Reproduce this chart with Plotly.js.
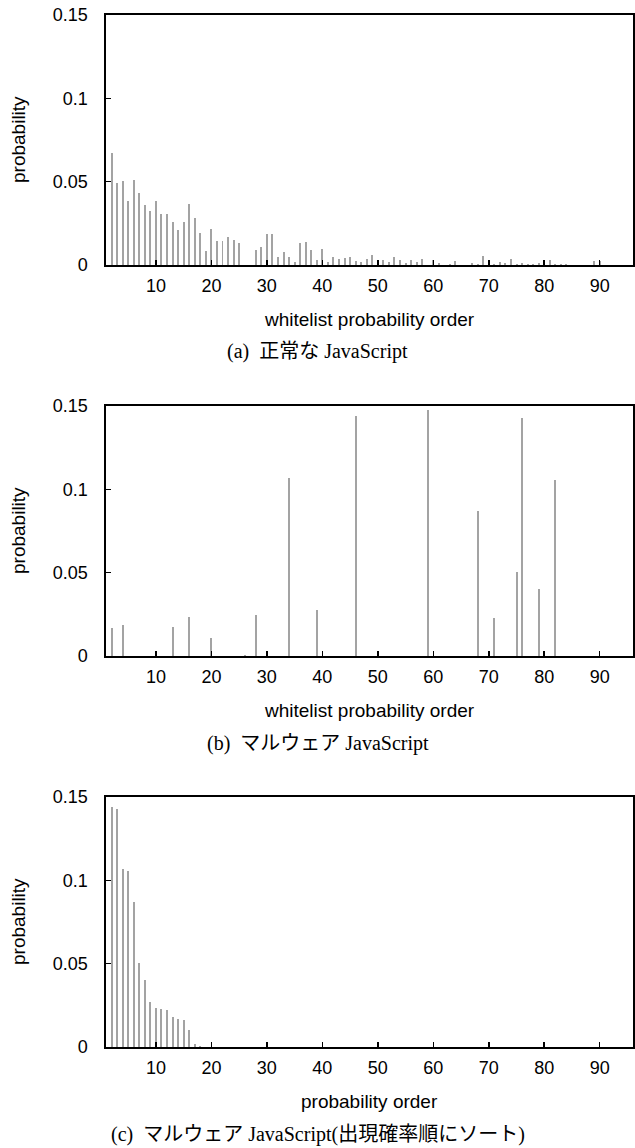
<!DOCTYPE html>
<html>
<head>
<meta charset="utf-8">
<script src="https://cdn.plot.ly/plotly-3.0.1.min.js"></script>
<style>
  html, body { margin: 0; padding: 0; background: #fff; }
  #chart { width: 635px; height: 1148px; }
</style>
</head>
<body>
<div id="chart"></div>
<script>
// Panel (a): benign JavaScript, by whitelist probability order
const benignOrder = [2,3,4,5,6,7,8,9,10,11,12,13,14,15,16,17,18,19,20,21,22,23,24,25,
  28,29,30,31,32,33,34,35,36,37,38,39,40,41,42,43,44,45,46,47,48,49,50,51,52,53,54,55,56,57,58,
  60,61,63,64,67,68,69,70,71,72,73,74,75,76,77,78,79,80,81,82,83,84,89,90];
const benignProb = [0.0674,0.049,0.0504,0.0384,0.0508,0.043,0.0358,0.0324,0.0384,0.0306,0.0306,0.0256,0.021,0.0256,0.0366,0.0282,0.0192,0.0082,0.0218,0.0142,0.0142,0.0168,0.015,0.0132,
  0.0088,0.0108,0.0184,0.0185,0.0046,0.008,0.005,0.0016,0.0132,0.014,0.0088,0.0032,0.0096,0.0016,0.0046,0.0034,0.0044,0.0046,0.0026,0.0016,0.0038,0.0058,0.003,0.003,0.002,0.0046,0.003,0.0012,0.0032,0.0016,0.0038,
  0.0028,0.0014,0.0004,0.0024,0.0012,0.0004,0.0054,0.0024,0.0008,0.0016,0.0012,0.0036,0.0006,0.0012,0.0008,0.0008,0.0012,0.0024,0.0028,0.0004,0.0004,0.0004,0.0024,0.0024];

// Panel (b): malware JavaScript, by whitelist probability order
const malwareOrder = [2,4,13,16,20,26,28,34,39,46,59,68,71,75,76,79,82];
const malwareProb = [0.017,0.0188,0.0176,0.0234,0.0106,0.0008,0.0244,0.1067,0.0276,0.144,0.1474,0.0871,0.023,0.0507,0.1426,0.0405,0.1058];

// Panel (c): malware JavaScript, sorted by occurrence probability
const sortedOrder = [2,3,4,5,6,7,8,9,10,11,12,13,14,15,16,17,18];
const sortedProb = [0.144,0.1428,0.1067,0.1057,0.0871,0.0507,0.0403,0.0272,0.0236,0.0228,0.0224,0.018,0.017,0.0164,0.010,0.0018,0.0004];

const xTickVals = [10,20,30,40,50,60,70,80,90];
const yTickVals = [0,0.05,0.1,0.15];
const yTickText = ['0','0.05','0.1','0.15'];

const xTitles = ['whitelist probability order','whitelist probability order','probability order'];
const captions = ['(a)&#160;&#160;正常な JavaScript','(b)&#160;&#160;マルウェア JavaScript','(c)&#160;&#160;マルウェア JavaScript(出現確率順にソート)'];

const W = 635, H = 1148;
const sans = 'Liberation Sans, Arial, sans-serif';
const serif = 'Liberation Serif, Times New Roman, Noto Sans CJK JP, serif';
const barColor = '#a3a3a3';

const panels = [
  {x: benignOrder, y: benignProb, top: 15, bottom: 265},
  {x: malwareOrder, y: malwareProb, top: 406, bottom: 656},
  {x: sortedOrder, y: sortedProb, top: 797, bottom: 1047}
];
const xL = 106, xR = 633;

const data = [];
const layout = {
  width: W, height: H,
  margin: {l: 0, r: 0, t: 0, b: 0},
  paper_bgcolor: '#fff', plot_bgcolor: '#fff',
  showlegend: false,
  bargap: 0,
  annotations: []
};

const tickFont = {family: sans, size: 18, color: '#000'};

panels.forEach((p, i) => {
  const s = i === 0 ? '' : String(i + 1);
  const xDom = [xL / W, xR / W];
  const yDom = [1 - p.bottom / H, 1 - p.top / H];
  data.push({
    type: 'bar', x: p.x, y: p.y, width: 0.36,
    marker: {color: barColor, line: {width: 0}},
    xaxis: 'x' + s, yaxis: 'y' + s, hoverinfo: 'skip'
  });
  // main axes: frame + labels (transparent outside ticks push labels out)
  layout['xaxis' + s] = {
    domain: xDom, range: [1, 96], tickmode: 'array', tickvals: xTickVals,
    showline: true, linecolor: '#000', linewidth: 1.6, mirror: true,
    ticks: 'outside', ticklen: 4, tickcolor: 'rgba(0,0,0,0)',
    showgrid: false, zeroline: false, tickfont: tickFont, anchor: 'y' + s
  };
  layout['yaxis' + s] = {
    domain: yDom, range: [0, 0.15], tickmode: 'array', tickvals: yTickVals, ticktext: yTickText,
    showline: true, linecolor: '#000', linewidth: 1.6, mirror: true,
    ticks: 'outside', ticklen: 13, tickcolor: 'rgba(0,0,0,0)',
    showgrid: false, zeroline: false, tickfont: tickFont, anchor: 'x' + s
  };
  // overlay axes: inside tick marks only
  const n = i + 4;
  data.push({
    type: 'scatter', mode: 'markers', x: [null], y: [null],
    xaxis: 'x' + n, yaxis: 'y' + n, hoverinfo: 'skip', showlegend: false
  });
  layout['xaxis' + n] = {
    domain: xDom, range: [1, 96], tickmode: 'array', tickvals: xTickVals,
    overlaying: 'x' + s, anchor: 'y' + n, side: 'bottom',
    ticks: 'inside', ticklen: 5, tickwidth: 1.5, tickcolor: '#000',
    showticklabels: false, showline: false, showgrid: false, zeroline: false
  };
  layout['yaxis' + n] = {
    domain: yDom, range: [0, 0.15], tickmode: 'array', tickvals: yTickVals,
    overlaying: 'y' + s, anchor: 'x' + n, side: 'left',
    ticks: 'inside', ticklen: 5, tickwidth: 1.5, tickcolor: '#000',
    showticklabels: false, showline: false, showgrid: false, zeroline: false
  };
  layout.annotations.push({
    xref: 'paper', yref: 'paper', x: (xL + xR) / 2 / W, y: 1 - (p.bottom + 54) / H,
    xanchor: 'center', yanchor: 'middle', showarrow: false,
    text: xTitles[i], font: {family: sans, size: 19, color: '#000'}
  });
  layout.annotations.push({
    xref: 'paper', yref: 'paper', x: 18 / W, y: 1 - (p.top + p.bottom) / 2 / H,
    xanchor: 'center', yanchor: 'middle', showarrow: false, textangle: -90,
    text: 'probability', font: {family: sans, size: 19, color: '#000'}
  });
  layout.annotations.push({
    xref: 'paper', yref: 'paper', x: 317.5 / W, y: 1 - (p.bottom + 87) / H,
    xanchor: 'center', yanchor: 'middle', showarrow: false,
    text: captions[i], font: {family: serif, size: 20, color: '#000'}
  });
});

Plotly.newPlot('chart', data, layout, {staticPlot: true, displayModeBar: false});
</script>
</body>
</html>
